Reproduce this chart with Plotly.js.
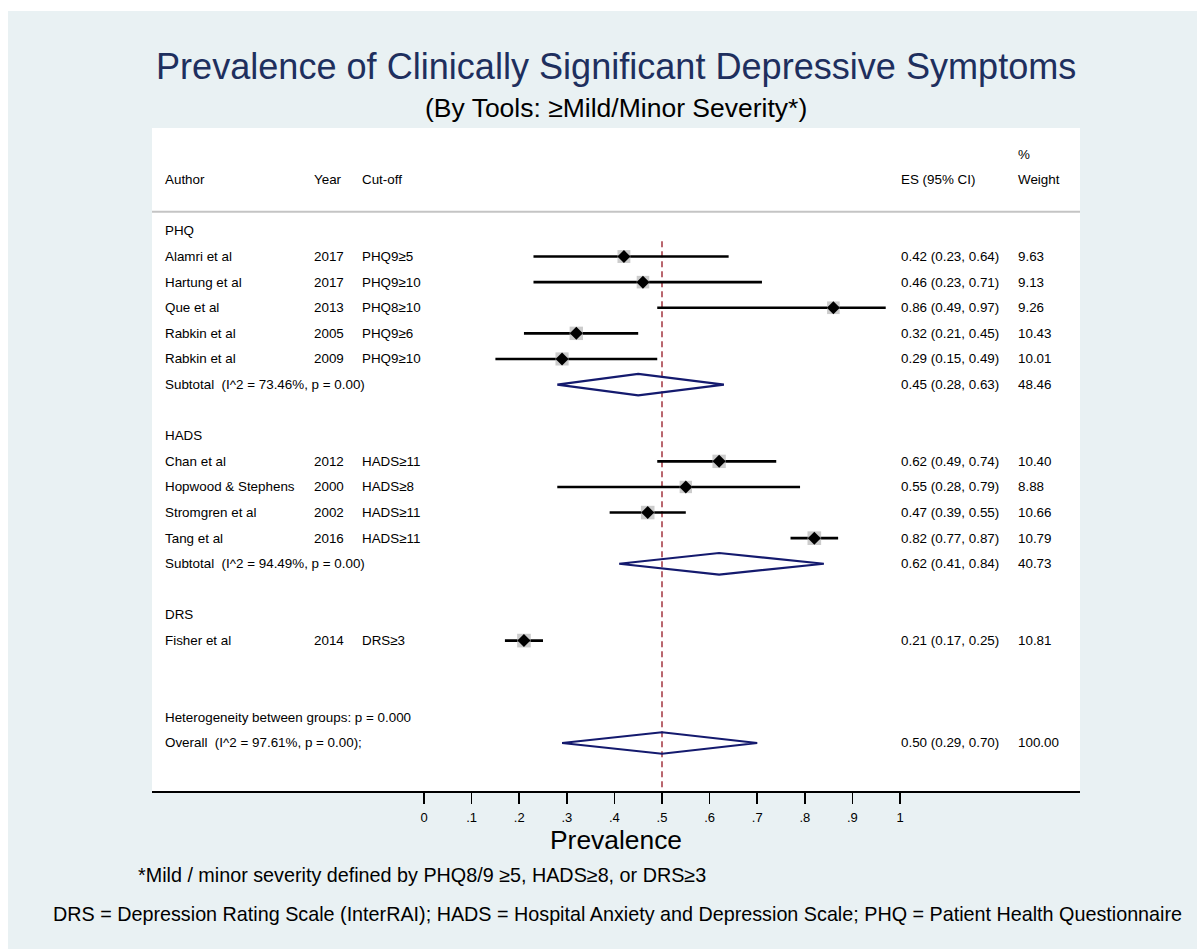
<!DOCTYPE html>
<html>
<head>
<meta charset="utf-8">
<script src="https://cdn.plot.ly/plotly-3.0.1.min.js"></script>
<style>
  html, body { margin: 0; padding: 0; background: #ffffff; }
  #chart { position: absolute; left: 8px; top: 11px; width: 1189px; height: 938px; }
</style>
</head>
<body>
<div id="chart"></div>
<script>
// ---------------- DATA ----------------
const groupNames = ["PHQ", "HADS", "DRS"];

const studyGroup  = ["PHQ", "PHQ", "PHQ", "PHQ", "PHQ", "HADS", "HADS", "HADS", "HADS", "DRS"];
const studyAuthor = ["Alamri et al", "Hartung et al", "Que et al", "Rabkin et al", "Rabkin et al",
                     "Chan et al", "Hopwood & Stephens", "Stromgren et al", "Tang et al", "Fisher et al"];
const studyYear   = ["2017", "2017", "2013", "2005", "2009", "2012", "2000", "2002", "2016", "2014"];
const studyCutoff = ["PHQ9≥5", "PHQ9≥10", "PHQ8≥10", "PHQ9≥6", "PHQ9≥10",
                     "HADS≥11", "HADS≥8", "HADS≥11", "HADS≥11", "DRS≥3"];
const studyES     = [0.42, 0.46, 0.86, 0.32, 0.29, 0.62, 0.55, 0.47, 0.82, 0.21];
const studyLo     = [0.23, 0.23, 0.49, 0.21, 0.15, 0.49, 0.28, 0.39, 0.77, 0.17];
const studyHi     = [0.64, 0.71, 0.97, 0.45, 0.49, 0.74, 0.79, 0.55, 0.87, 0.25];
const studyWeight = [9.63, 9.13, 9.26, 10.43, 10.01, 10.40, 8.88, 10.66, 10.79, 10.81];

// subtotals per group (null = no subtotal shown)
const subES     = [0.45, 0.62, null];
const subLo     = [0.28, 0.41, null];
const subHi     = [0.63, 0.84, null];
const subWeight = [48.46, 40.73, null];
const subI2     = ["73.46%", "94.49%", null];
const subP      = ["0.00", "0.00", null];

const overallES = 0.50, overallLo = 0.29, overallHi = 0.70, overallWeight = 100.00;
const overallI2 = "97.61%", overallP = "0.00";
const heterogeneityP = "0.000";

const tickVals   = [0, 0.1, 0.2, 0.3, 0.4, 0.5, 0.6, 0.7, 0.8, 0.9, 1];
const tickLabels = ["0", ".1", ".2", ".3", ".4", ".5", ".6", ".7", ".8", ".9", "1"];

const titleText    = "Prevalence of Clinically Significant Depressive Symptoms";
const subtitleText = "(By Tools: ≥Mild/Minor Severity*)";
const xTitleText   = "Prevalence";
const note1Text    = "*Mild / minor severity defined by PHQ8/9 ≥5, HADS≥8, or DRS≥3";
const note2Text    = "DRS = Depression Rating Scale (InterRAI); HADS = Hospital Anxiety and Depression Scale; PHQ = Patient Health Questionnaire";

// ---------------- LAYOUT OF ROWS ----------------
const FONT = "Liberation Sans, Arial, Helvetica, sans-serif";
const TFS = 13.4;
const colX = { author: (165 - 152) / 928, year: (314 - 152) / 928, cut: (362 - 152) / 928,
               es: (901 - 152) / 928, wt: (1018 - 152) / 928 };

const annotations = [];
function txt(x, y, text, opts) {
  annotations.push(Object.assign({
    xref: "paper", yref: "y", x: x, y: y, text: text, showarrow: false, xshift: -2,
    xanchor: "left", yanchor: "middle", font: { family: FONT, size: TFS, color: "#000" }
  }, opts || {}));
}
const fmt = v => v.toFixed(2);

// header
txt(colX.author, -2, "Author");
txt(colX.year, -2, "Year");
txt(colX.cut, -2, "Cut-off");
txt(colX.es, -2, "ES (95% CI)");
txt(colX.wt, -3, "%");
txt(colX.wt, -2, "Weight");

let row = 0;
const studyRow = new Array(studyES.length);
const subRow = [];
groupNames.forEach((g, gi) => {
  txt(colX.author, row, g);
  row++;
  studyGroup.forEach((sg, si) => {
    if (sg === g) { studyRow[si] = row; row++; }
  });
  subRow[gi] = row;
  row += 2;
});
const hetRow = row;
const overallRow = row + 1;

studyES.forEach((es, i) => {
  const r = studyRow[i];
  txt(colX.author, r, studyAuthor[i]);
  txt(colX.year, r, studyYear[i]);
  txt(colX.cut, r, studyCutoff[i]);
  txt(colX.es, r, `${fmt(es)} (${fmt(studyLo[i])}, ${fmt(studyHi[i])})`);
  txt(colX.wt, r, fmt(studyWeight[i]));
});
subES.forEach((es, gi) => {
  if (es === null) return;
  const r = subRow[gi];
  txt(colX.author, r, `Subtotal  (I^2 = ${subI2[gi]}, p = ${subP[gi]})`);
  txt(colX.es, r, `${fmt(es)} (${fmt(subLo[gi])}, ${fmt(subHi[gi])})`);
  txt(colX.wt, r, fmt(subWeight[gi]));
});
txt(colX.author, hetRow, `Heterogeneity between groups: p = ${heterogeneityP}`);
txt(colX.author, overallRow, `Overall  (I^2 = ${overallI2}, p = ${overallP});`);
txt(colX.es, overallRow, `${fmt(overallES)} (${fmt(overallLo)}, ${fmt(overallHi)})`);
txt(colX.wt, overallRow, fmt(overallWeight));

// titles & notes
annotations.push({ xref: "paper", yref: "paper", x: (615.5 - 152) / 928, y: (791 - 66) / 663, text: titleText, showarrow: false,
  xanchor: "center", yanchor: "middle", font: { family: FONT, size: 36.1, color: "#1E2F5E" } });
annotations.push({ xref: "paper", yref: "paper", x: (616 - 152) / 928, y: (791 - 108) / 663, text: subtitleText, showarrow: false,
  xanchor: "center", yanchor: "middle", font: { family: FONT, size: 26.5, color: "#000" } });
annotations.push({ xref: "paper", yref: "paper", x: (616 - 152) / 928, y: (791 - 840) / 663, text: xTitleText, showarrow: false,
  xanchor: "center", yanchor: "middle", borderpad: 0, font: { family: FONT, size: 26.4, color: "#000" } });
annotations.push({ xref: "paper", yref: "paper", x: (138 - 152) / 928, y: (791 - 875) / 663, text: note1Text, showarrow: false,
  xanchor: "left", yanchor: "middle", xshift: -2, font: { family: FONT, size: 19.75, color: "#000" } });
annotations.push({ xref: "paper", yref: "paper", x: (617 - 152) / 928, y: (791 - 914) / 663, text: note2Text, showarrow: false,
  xanchor: "center", yanchor: "middle", font: { family: FONT, size: 19.75, color: "#000" } });

// ---------------- TRACES ----------------
const ciX = [], ciY = [];
studyES.forEach((es, i) => { ciX.push(studyLo[i], studyHi[i], null); ciY.push(studyRow[i], studyRow[i], null); });

const dX = [], dY = [];
const H = 0.42;
function diamond(es, lo, hi, r) {
  dX.push(lo, es, hi, es, lo, null);
  dY.push(r, r - H, r, r + H, r, null);
}
subES.forEach((es, gi) => { if (es !== null) diamond(es, subLo[gi], subHi[gi], subRow[gi]); });
diamond(overallES, overallLo, overallHi, overallRow);

const traces = [
  { type: "scatter", mode: "lines", x: [overallES, overallES], y: [0.4, 21.875],
    line: { color: "#A3343F", width: 1.5, dash: "6px,4px" }, hoverinfo: "skip" },
  { type: "scatter", mode: "lines", x: ciX, y: ciY, line: { color: "#000", width: 2.6 }, hoverinfo: "skip" },
  { type: "scatter", mode: "markers", x: studyES, y: studyRow,
    marker: { symbol: "square", color: "#B6B6B6", size: studyWeight.map(w => 4.15 * Math.sqrt(w)), line: { width: 0 } } },
  { type: "scatter", mode: "markers", x: studyES, y: studyRow,
    marker: { symbol: "diamond", color: "#000", size: 10, line: { width: 0 } } },
  { type: "scatter", mode: "lines", x: dX, y: dY, line: { color: "#141A6E", width: 2.2 }, hoverinfo: "skip" }
];

const layout = {
  width: 1189, height: 938,
  margin: { l: 144, r: 117, t: 117, b: 158, pad: 0 },
  paper_bgcolor: "#E9F1F3",
  plot_bgcolor: "#FFFFFF",
  showlegend: false,
  font: { family: FONT, color: "#000" },
  xaxis: {
    range: [(152 - 424) / 476, (1080 - 424) / 476],
    showgrid: false, zeroline: false,
    showline: true, linecolor: "#000", linewidth: 2,
    ticks: "outside", ticklen: 11, tickwidth: 1.6, tickcolor: "#000",
    ticklabelstandoff: 2,
    tickvals: tickVals, ticktext: tickLabels,
    tickfont: { family: FONT, size: 13, color: "#000" },
    fixedrange: true
  },
  yaxis: {
    range: [21.875, -4.02], visible: false, showgrid: false, zeroline: false, fixedrange: true
  },
  shapes: [
    { type: "line", xref: "paper", yref: "y", x0: 0, x1: 1, y0: -0.75, y1: -0.75,
      line: { color: "#C4C4C4", width: 2 } }
  ],
  annotations: annotations
};

Plotly.newPlot("chart", traces, layout, { staticPlot: true, displayModeBar: false });
</script>
</body>
</html>
